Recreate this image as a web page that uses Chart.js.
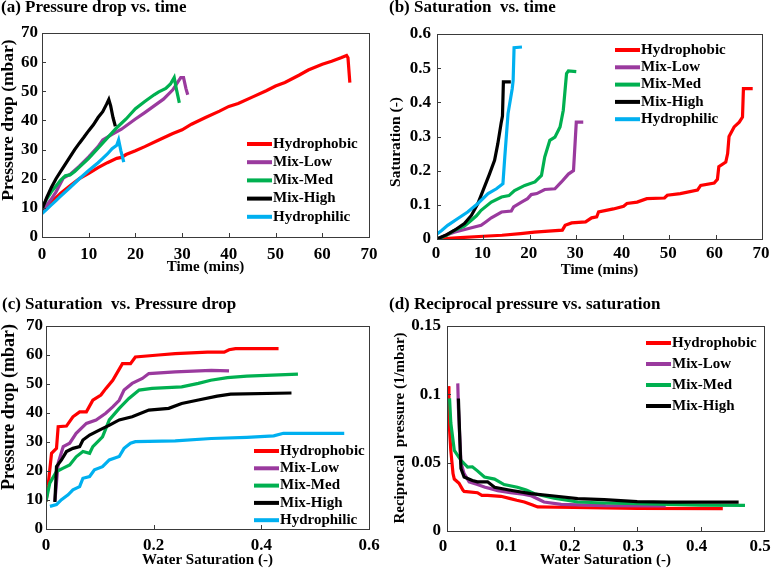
<!DOCTYPE html>
<html>
<head>
<meta charset="utf-8">
<script src="https://cdn.jsdelivr.net/npm/chart.js@4.4.1/dist/chart.umd.min.js"></script>
<style>
  html, body { margin: 0; padding: 0; background: #fff; }
  #wrap { position: relative; width: 772px; height: 569px; }
  canvas { position: absolute; }
</style>
</head>
<body>
<div id="wrap">
  <canvas id="chartA" width="386" height="284" style="left:0;top:0"></canvas>
  <canvas id="chartB" width="386" height="284" style="left:386px;top:0"></canvas>
  <canvas id="chartC" width="386" height="285" style="left:0;top:284px"></canvas>
  <canvas id="chartD" width="386" height="285" style="left:386px;top:284px"></canvas>
</div>
<script>
// series shared by all four panels
const seriesNames = ["Hydrophobic", "Mix-Low", "Mix-Med", "Mix-High", "Hydrophilic"];
const seriesColors = ["#ff0000", "#9a3a9e", "#00b050", "#000000", "#00b0f0"];

// (a) time (mins) , pressure drop (mbar)
const aHydrophobic = [[0,9],[1,10.5],[2,12],[3,13.5],[4,15],[5,16.3],[6,17.6],[8,20],[10,21.8],[12,23.8],[14,25.5],[16,27],[17,27.3],[18,28.3],[20,29.6],[22,31],[25,33.3],[28,35.5],[30,36.8],[32,38.7],[35,41],[38,43.2],[40,44.8],[42,45.8],[45,48],[48,50.2],[50,51.8],[52,53],[55,55.5],[57,57.3],[60,59.3],[62,60.3],[64,61.5],[65.2,62.3],[65.5,61.5],[65.9,53]];
const aMixLow = [[0,9.5],[1,11],[2,13],[3,15.5],[4,18.5],[4.6,20.3],[6,21.5],[8,24.3],[10,27.5],[12,31],[13,33.3],[15,35.2],[17,37],[20,40.5],[22,42.7],[24,45],[26,47.3],[28,50.5],[29.2,53.5],[29.7,54.7],[30.3,54.7],[30.8,51],[31.2,48.8]];
const aMixMed = [[0,10],[1,13],[2,15.5],[3,17.5],[4,19.5],[5,21],[6,21.3],[7,22.5],[8,24],[10,27],[12,30.5],[14,34],[16,37.5],[18,40.5],[20,44],[22,46.5],[24,48.8],[25,49.8],[26.5,51],[27.5,52.5],[28.3,54.7],[28.8,50.5],[29.4,46]];
const aMixHigh = [[0,9.5],[0.5,11.5],[1,13.5],[2,17],[3,20],[4,22.5],[5,25],[6,27.5],[7,30],[8,32.2],[9,34.3],[10,36.5],[11,38.5],[12,41],[13,43],[13.8,45.5],[14.3,47.2],[14.7,45],[15.2,41],[15.7,38]];
const aHydrophilic = [[0,8],[1,9.5],[2,11],[3,12.5],[4,14],[5,15.5],[6,17],[8,20],[10,22.8],[12,25.5],[13,27],[14,28.5],[15,30.3],[16,31.5],[16.4,33.3],[16.9,29.5],[17.5,25.7]];

// (b) time (mins) , saturation (-)
const bHydrophobic = [[0,0],[5,0.004],[10,0.008],[14,0.011],[18,0.016],[21,0.02],[24,0.023],[27,0.026],[27.6,0.04],[29,0.047],[32,0.05],[33.3,0.062],[34.4,0.065],[34.8,0.079],[38,0.088],[40.2,0.096],[40.9,0.104],[43.1,0.108],[45.2,0.118],[49,0.12],[49.6,0.128],[52.4,0.133],[56.1,0.143],[56.8,0.157],[59.7,0.164],[60.4,0.175],[60.7,0.212],[62.2,0.225],[62.6,0.25],[62.9,0.3],[64,0.328],[65.1,0.342],[65.8,0.357],[66,0.44],[68,0.44]];
const bMixLow = [[0,0],[2,0.012],[3.7,0.02],[6.6,0.03],[9.5,0.04],[10.5,0.05],[11.7,0.062],[13.9,0.079],[16,0.082],[16.5,0.094],[18.2,0.108],[19.5,0.118],[20.3,0.13],[21.5,0.133],[23.2,0.145],[25.4,0.147],[26.8,0.167],[28.3,0.19],[29.4,0.2],[30,0.342],[31.5,0.342]];
const bMixMed = [[0,0],[2,0.01],[3.7,0.025],[5.9,0.038],[7.4,0.055],[8.5,0.068],[9.5,0.084],[11.7,0.108],[13.9,0.123],[15.5,0.127],[16.7,0.142],[18.9,0.157],[21.1,0.167],[22.5,0.186],[23.2,0.24],[24.3,0.289],[25.4,0.298],[26.5,0.328],[27.2,0.377],[27.9,0.484],[28.3,0.492],[30,0.49]];
const bMixHigh = [[0,0],[2,0.012],[3.7,0.025],[5.9,0.045],[7.4,0.069],[8.8,0.104],[10.2,0.152],[11.3,0.19],[12.4,0.23],[13.1,0.279],[13.8,0.338],[14.1,0.36],[14.3,0.46],[15.9,0.46]];
const bHydrophilic = [[0,0.015],[1,0.025],[2.3,0.04],[4.5,0.06],[6.6,0.079],[8.8,0.104],[11,0.133],[12.8,0.147],[14.2,0.162],[14.6,0.24],[15.3,0.367],[16.2,0.44],[16.4,0.464],[16.6,0.56],[18.3,0.562]];

// (c) water saturation (-) , pressure drop (mbar)
const cHydrophobic = [[0,9.5],[0.004,15],[0.007,20.4],[0.0103,26.1],[0.0195,27.8],[0.0226,35.3],[0.038,35.5],[0.05,38.7],[0.0625,40.4],[0.075,40.4],[0.087,44.4],[0.102,46.2],[0.111,48.4],[0.124,51.3],[0.142,57],[0.157,57],[0.166,59.3],[0.209,60],[0.24,60.5],[0.3,61],[0.331,61],[0.34,61.8],[0.352,62.2],[0.432,62.2]];
const cMixLow = [[0.0165,9.5],[0.0226,22.7],[0.032,28.4],[0.044,29.6],[0.056,33],[0.075,36.4],[0.093,37.6],[0.111,39.9],[0.124,42.1],[0.136,44.4],[0.145,47.9],[0.16,50.2],[0.179,51.9],[0.191,53.6],[0.24,54.2],[0.307,54.7],[0.34,54.5]];
const cMixMed = [[0,9.5],[0.007,15.8],[0.0195,19.8],[0.032,21],[0.044,22.1],[0.056,24.9],[0.0686,26.7],[0.081,26.1],[0.087,28.4],[0.105,31.8],[0.1176,37.6],[0.136,41.6],[0.154,45],[0.173,47.9],[0.197,48.5],[0.252,49],[0.283,50.2],[0.306,51.3],[0.337,52.2],[0.373,52.7],[0.468,53.4]];
const cMixHigh = [[0.0165,9.3],[0.0195,21.5],[0.0287,23.8],[0.038,26.7],[0.05,27.8],[0.0625,28.4],[0.0686,30.7],[0.081,32.4],[0.099,34.1],[0.118,35.8],[0.136,37.6],[0.16,38.7],[0.191,41],[0.228,41.6],[0.252,43.3],[0.283,44.5],[0.318,45.8],[0.343,46.5],[0.456,46.9]];
const cHydrophilic = [[0.0073,7.8],[0.0195,8.4],[0.0287,10.1],[0.041,11.8],[0.05,13.5],[0.0625,14.6],[0.0686,17.5],[0.081,18.1],[0.09,20.4],[0.105,21.5],[0.1176,23.8],[0.136,25],[0.145,27.8],[0.157,29.6],[0.166,30.1],[0.24,30.4],[0.307,31.2],[0.373,31.6],[0.423,32.1],[0.441,33],[0.554,33]];

// (d) water saturation (-) , reciprocal pressure (1/mbar)
const dHydrophobic = [[0.002,0.106],[0.003,0.082],[0.006,0.059],[0.0095,0.042],[0.0115,0.038],[0.019,0.035],[0.025,0.03],[0.027,0.029],[0.048,0.028],[0.055,0.026],[0.064,0.0261],[0.085,0.0254],[0.1,0.0237],[0.11,0.0225],[0.122,0.0212],[0.135,0.019],[0.143,0.0176],[0.2,0.0172],[0.3,0.0166],[0.435,0.0163]];
const dMixLow = [[0.017,0.108],[0.018,0.09],[0.02,0.07],[0.022,0.05],[0.027,0.042],[0.035,0.036],[0.048,0.034],[0.06,0.032],[0.069,0.031],[0.08,0.0295],[0.1,0.028],[0.12,0.027],[0.132,0.0259],[0.145,0.023],[0.153,0.0212],[0.18,0.0195],[0.25,0.0185],[0.345,0.0183]];
const dMixMed = [[0.004,0.097],[0.006,0.079],[0.0115,0.059],[0.022,0.0517],[0.0325,0.0468],[0.04,0.047],[0.048,0.044],[0.059,0.0395],[0.075,0.038],[0.09,0.034],[0.111,0.032],[0.125,0.03],[0.138,0.0273],[0.169,0.024],[0.206,0.0212],[0.248,0.0205],[0.3,0.02],[0.4,0.019],[0.47,0.0188]];
const dMixHigh = [[0.018,0.097],[0.02,0.07],[0.022,0.0457],[0.027,0.0395],[0.04,0.037],[0.048,0.036],[0.064,0.036],[0.075,0.032],[0.1,0.0298],[0.132,0.0273],[0.169,0.0256],[0.206,0.0237],[0.248,0.0229],[0.3,0.0215],[0.35,0.0212],[0.46,0.0212]];

const serif = "'Liberation Serif', 'Times New Roman', serif";
Chart.defaults.font.family = serif;
Chart.defaults.font.weight = "bold";
Chart.defaults.color = "#000";

// frame, inward tick marks, panel title, rotated y title and in-plot legend
const panelDecor = {
  id: "panelDecor",
  afterDraw(chart, args, o){
    const ctx = chart.ctx, a = chart.chartArea;
    const xs = chart.scales.x, ys = chart.scales.y;
    ctx.save();
    ctx.strokeStyle = "#3a3a3a";
    ctx.lineWidth = 1;
    ctx.strokeRect(Math.round(a.left)+0.5, Math.round(a.top)+0.5, Math.round(a.right-a.left), Math.round(a.bottom-a.top));
    ctx.beginPath();
    xs.ticks.forEach(t => {
      const p = Math.round(xs.getPixelForValue(t.value))+0.5;
      ctx.moveTo(p, a.bottom); ctx.lineTo(p, a.bottom - 4);
    });
    ys.ticks.forEach(t => {
      const p = Math.round(ys.getPixelForValue(t.value))+0.5;
      ctx.moveTo(a.left, p); ctx.lineTo(a.left + 4, p);
    });
    ctx.stroke();

    ctx.fillStyle = "#000";
    ctx.font = "bold 17px " + serif;
    ctx.textAlign = "left";
    ctx.textBaseline = "alphabetic";
    ctx.fillText(o.title, o.titleX, o.titleY);

    ctx.save();
    ctx.translate(o.yTitleX, o.yTitleY);
    ctx.rotate(-Math.PI/2);
    ctx.font = "bold " + o.yTitleSize + "px " + serif;
    ctx.textAlign = "center";
    ctx.textBaseline = "middle";
    ctx.fillText(o.yTitle, 0, 0);
    ctx.restore();

    ctx.font = "bold 15px " + serif;
    ctx.textBaseline = "middle";
    ctx.lineWidth = 4;
    chart.data.datasets.forEach((ds, i) => {
      const y = o.legY + i*o.legGap;
      ctx.strokeStyle = ds.borderColor;
      ctx.beginPath(); ctx.moveTo(o.legX, y); ctx.lineTo(o.legX + 25, y); ctx.stroke();
      ctx.fillText(ds.label, o.legX + 26, y);
    });
    ctx.restore();
  }
};

const fmt = v => String(Number(v.toFixed(3)));

function makePanel(id, p){
  return new Chart(document.getElementById(id), {
    type: "line",
    data: {
      datasets: p.series.map((pts, i) => ({
        label: seriesNames[i],
        data: pts.map(q => ({x: q[0], y: q[1]})),
        borderColor: seriesColors[i],
        borderWidth: 3.2,
        pointRadius: 0,
        tension: 0,
        fill: false,
        order: p.series.length - i
      }))
    },
    options: {
      responsive: false,
      animation: false,
      devicePixelRatio: 1,
      layout: { padding: { top: p.top, right: p.right, left: 0, bottom: 0 } },
      plugins: { legend: { display: false }, tooltip: { enabled: false }, panelDecor: p.decor },
      scales: {
        x: {
          type: "linear", min: p.xMin, max: p.xMax,
          ticks: { stepSize: p.xStep, padding: p.xPad, labelOffset: p.xShift || 0, maxRotation: 0, font: { size: 17 }, callback: fmt },
          grid: { display: false, drawTicks: false },
          border: { display: false },
          title: { display: true, text: p.xTitle, font: { size: 15 }, padding: { top: 0, bottom: p.xTitlePad } },
          afterFit: s => { s.height = p.xH; s.paddingRight = 0; s.paddingLeft = 0; }
        },
        y: {
          min: p.yMin, max: p.yMax,
          ticks: { stepSize: p.yStep, padding: p.yPad, font: { size: 17 }, callback: fmt },
          grid: { display: false, drawTicks: false },
          border: { display: false },
          afterFit: s => { s.width = p.yW; }
        }
      }
    },
    plugins: [panelDecor]
  });
}

makePanel("chartA", {
  series: [aHydrophobic, aMixLow, aMixMed, aMixHigh, aHydrophilic],
  top: 33, right: 17, xH: 47, yW: 42, xPad: 7, yPad: 4, xTitlePad: 8,
  xMin: 0, xMax: 70, xStep: 10, yMin: 0, yMax: 70, yStep: 10,
  xTitle: "Time (mins)",
  decor: { title: "(a) Pressure drop vs. time", titleX: 1, titleY: 12,
    yTitle: "Pressure drop (mbar)", yTitleX: 8, yTitleY: 120, yTitleSize: 17.5,
    legX: 247, legY: 144, legGap: 18.2 }
});

makePanel("chartB", {
  series: [bHydrophobic, bMixLow, bMixMed, bMixHigh, bHydrophilic],
  top: 34, right: 10, xH: 45, yW: 51, xPad: 4, yPad: 6, xTitlePad: 5, xShift: -1,
  xMin: 0, xMax: 70, xStep: 10, yMin: 0, yMax: 0.6, yStep: 0.1,
  xTitle: "Time (mins)",
  decor: { title: "(b) Saturation  vs. time", titleX: 3, titleY: 12,
    yTitle: "Saturation (-)", yTitleX: 10, yTitleY: 142, yTitleSize: 15.5,
    legX: 229, legY: 50, legGap: 17.3 }
});

makePanel("chartC", {
  series: [cHydrophobic, cMixLow, cMixMed, cMixHigh, cHydrophilic],
  top: 42, right: 17, xH: 40, yW: 46, xPad: 6, yPad: 3, xTitlePad: 0,
  xMin: 0, xMax: 0.6, xStep: 0.2, yMin: 0, yMax: 70, yStep: 10,
  xTitle: "Water Saturation (-)",
  decor: { title: "(c) Saturation  vs. Pressure drop", titleX: 2, titleY: 24.5,
    yTitle: "Pressure drop (mbar)", yTitleX: 9, yTitleY: 123, yTitleSize: 18,
    legX: 254, legY: 167, legGap: 17.3 }
});

makePanel("chartD", {
  series: [dHydrophobic, dMixLow, dMixMed, dMixHigh],
  top: 42, right: 8, xH: 38, yW: 61, xPad: 5, yPad: 6, xTitlePad: 0, xShift: -4,
  xMin: 0, xMax: 0.5, xStep: 0.1, yMin: 0, yMax: 0.15, yStep: 0.05,
  xTitle: "Water Saturation (-)",
  decor: { title: "(d) Reciprocal pressure vs. saturation", titleX: 3, titleY: 24.5,
    yTitle: "Reciprocal  pressure (1/mbar)", yTitleX: 14, yTitleY: 144, yTitleSize: 15,
    legX: 260, legY: 59, legGap: 21 }
});
</script>
</body>
</html>
